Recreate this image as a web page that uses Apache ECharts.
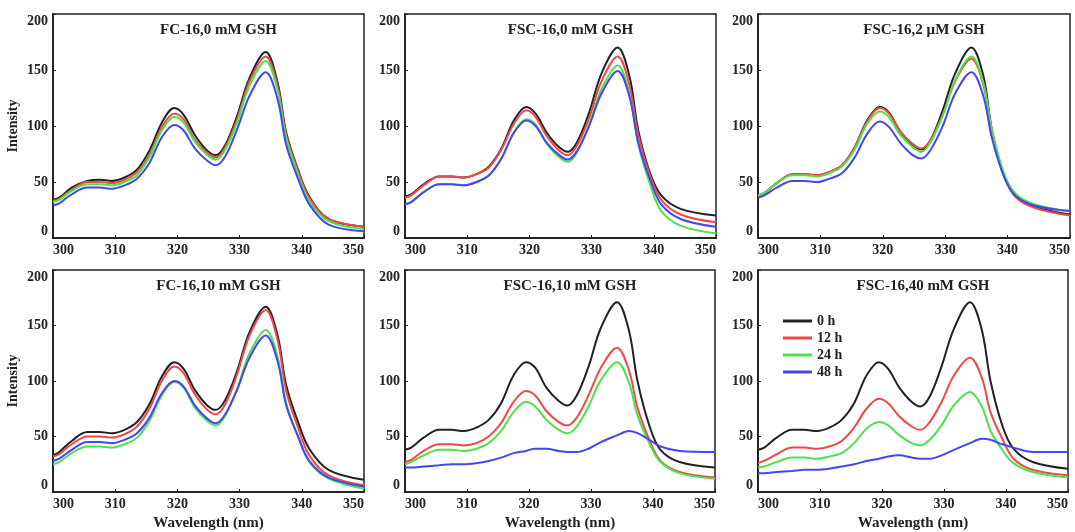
<!DOCTYPE html>
<html><head><meta charset="utf-8">
<script src="https://cdn.jsdelivr.net/npm/echarts@6/dist/echarts.min.js"></script>
<style>html,body{margin:0;padding:0;background:#fff}#c{width:1075px;height:532px}</style>
</head><body><div id="c"></div>
<script>
// Wavelength (nm) sample points
const wavelength = [300,301,303,305.5,307.5,309.5,311.5,313.5,315.5,317.5,319.5,321,322.8,324.8,326.2,327.7,329.6,331.6,334.2,336.1,337.5,339.4,341.2,344.3,350];
const seriesNames = ['0 h','12 h','24 h','48 h'];
const panelTitles = ['FC-16,0 mM GSH','FSC-16,0 mM GSH','FSC-16,2 \u03bcM GSH','FC-16,10 mM GSH','FSC-16,10 mM GSH','FSC-16,40 mM GSH'];

// Panel 1: FC-16, 0 mM GSH
const p1_0h  = [34,36,45,51,52,51,54,61,78,103,116,110,92,78,74,83,109,143,166,139,94,61,37,17,10];
const p1_12h = [33,35,43,50,50,49,52,59,74,99,111,106,88,76,72,81,106,140,162,136,92,60,36,17,10];
const p1_24h = [32,34,42,48,48,47,50,56,72,96,108,103,86,74,70,79,103,136,158,132,89,57,33,15,8];
const p1_48h = [29,31,39,45,45,44,47,53,67,90,101,96,80,69,65,73,97,127,148,124,83,53,30,12,6];
// Panel 2: FSC-16, 0 mM GSH
const p2_0h  = [37,39,48,55,55,54,57,64,80,105,117,111,94,81,77,86,112,147,170,144,96,58,38,26,20];
const p2_12h = [36,38,47,55,55,54,57,63,79,102,114,108,91,78,74,83,107,140,162,136,92,56,34,21,14];
const p2_24h = [30,32,41,48,48,47,50,56,71,94,106,101,84,72,68,77,101,133,154,128,84,48,24,11,4];
const p2_48h = [30,32,41,48,48,47,50,56,71,94,105,100,85,74,70,78,100,129,149,126,85,52,30,17,10];
// Panel 3: FSC-16, 2 uM GSH
const p3_0h  = [38,40,49,57,57,56,59,65,81,105,117,112,95,83,79,88,114,147,170,145,96,56,38,28,21];
const p3_12h = [38,40,49,57,57,56,59,65,81,104,116,111,95,84,80,88,110,140,160,137,94,56,37,27,20];
const p3_24h = [38,40,49,56,56,55,58,64,79,102,113,108,92,81,77,86,109,141,162,139,96,58,40,30,24];
const p3_48h = [36,38,45,51,51,50,53,58,72,93,104,99,85,74,71,79,100,129,148,127,89,55,38,29,24];
// Panel 4: FC-16, 10 mM GSH
const p4_0h  = [33,36,46,54,54,53,56,63,79,104,117,111,92,78,74,83,109,144,167,141,96,63,39,20,11];
const p4_12h = [32,34,43,50,50,49,52,59,75,100,113,107,88,74,70,79,106,141,164,137,91,58,33,15,6];
const p4_24h = [25,27,35,41,41,40,43,49,64,87,99,94,76,64,60,69,93,125,146,122,80,50,27,12,3];
const p4_48h = [28,30,38,45,45,44,47,53,67,89,100,95,78,66,62,70,92,121,141,118,78,50,28,13,5];
// Panel 5: FSC-16, 10 mM GSH
const p5_0h  = [38,40,49,56,56,55,58,65,80,105,117,112,94,82,78,87,113,148,171,146,100,60,38,27,22];
const p5_12h = [27,29,37,43,43,42,44,50,62,81,91,87,73,63,60,67,87,112,130,110,76,47,28,18,13];
const p5_24h = [25,27,33,38,38,37,39,44,55,72,81,77,65,56,53,59,77,101,117,99,69,44,27,17,12];
const p5_48h = [22,22,23,24,25,25,26,28,31,35,37,39,39,37,36,36,39,45,51,55,53,47,41,37,36];
// Panel 6: FSC-16, 40 mM GSH
const p6_0h  = [38,40,49,56,56,55,58,65,80,105,117,111,94,81,77,86,113,147,171,146,100,60,39,27,21];
const p6_12h = [26,28,34,40,40,39,41,46,58,75,84,80,68,59,56,63,81,105,121,103,72,48,30,20,15];
const p6_24h = [22,23,27,31,31,30,32,35,44,57,63,60,51,44,42,47,60,78,90,77,55,38,26,18,13];
const p6_48h = [17,17,18,19,20,20,21,23,25,28,30,32,33,31,30,30,33,38,44,48,47,43,40,36,36];

const panelData = [
  [p1_0h,p1_12h,p1_24h,p1_48h],
  [p2_0h,p2_12h,p2_24h,p2_48h],
  [p3_0h,p3_12h,p3_24h,p3_48h],
  [p4_0h,p4_12h,p4_24h,p4_48h],
  [p5_0h,p5_12h,p5_24h,p5_48h],
  [p6_0h,p6_12h,p6_24h,p6_48h]
];

const colors = ['#222222','#f04848','#4be24b','#4646f0'];
const FONT = '"Liberation Serif", "Times New Roman", serif';
const grids = [
  {left:53, top:14, width:311, height:224},
  {left:405, top:14, width:311, height:224},
  {left:758, top:14, width:312, height:224},
  {left:53, top:270, width:311, height:223},
  {left:405, top:270, width:310, height:224},
  {left:758, top:270, width:310, height:223}
];

const option = {
  animation:false,
  backgroundColor:'#fff',
  textStyle:{fontFamily:FONT},
  grid: grids.map(g=>Object.assign({show:true, borderColor:'#222', borderWidth:1.5, backgroundColor:'transparent'}, g)),
  title: grids.map((g,i)=>({
    text: panelTitles[i],
    left: g.left + g.width/2 + 5,
    top: g.top + 4,
    textAlign:'center',
    textStyle:{fontFamily:FONT, fontWeight:'bold', fontSize:15, color:'#222'}
  })),
  xAxis: grids.map((g,i)=>({
    type:'value', gridIndex:i, min:300, max:350, interval:10,
    name: i>=3 ? 'Wavelength (nm)' : '',
    nameLocation:'middle', nameGap:24,
    nameTextStyle:{fontFamily:FONT, fontWeight:'bold', fontSize:15, color:'#222'},
    axisLine:{show:true, onZero:false, lineStyle:{color:'#222', width:2}},
    axisTick:{show:true, inside:true, length:3, lineStyle:{color:'#222'}},
    axisLabel:{margin:5, alignMinLabel:'left', alignMaxLabel:'right', fontFamily:FONT, fontWeight:'bold', fontSize:14, color:'#222'},
    splitLine:{show:false}
  })),
  yAxis: grids.map((g,i)=>({
    type:'value', gridIndex:i, min:0, max:200, interval:50,
    name: (i===0||i===3) ? 'Intensity' : '',
    nameLocation:'middle', nameGap:33,
    nameTextStyle:{fontFamily:FONT, fontWeight:'bold', fontSize:14, color:'#222'},
    axisLine:{show:true, lineStyle:{color:'#222', width:2}},
    axisTick:{show:true, inside:true, length:3, lineStyle:{color:'#222'}},
    axisLabel:{margin:5, verticalAlignMinLabel:'bottom', verticalAlignMaxLabel:'top', fontFamily:FONT, fontWeight:'bold', fontSize:14, color:'#222'},
    splitLine:{show:false}
  })),
  legend:{
    data: seriesNames,
    orient:'vertical', left:783, top:314, padding:0,
    itemWidth:29, itemHeight:3, itemGap:3,
    icon:'rect',
    textStyle:{fontFamily:FONT, fontWeight:'bold', fontSize:14, color:'#222'},
    selectedMode:false
  },
  series: []
};

panelData.forEach((arr,pi)=>{
  arr.forEach((vals,si)=>{
    option.series.push({
      type:'line', name:seriesNames[si], xAxisIndex:pi, yAxisIndex:pi,
      data: wavelength.map((w,k)=>[w, vals[k]]),
      smooth:0.35, symbol:'none', clip:true,
      lineStyle:{color:colors[si], width:2},
      itemStyle:{color:colors[si]}
    });
  });
});

const chart = echarts.init(document.getElementById('c'), null, {renderer:'canvas'});
chart.setOption(option);
</script></body></html>
